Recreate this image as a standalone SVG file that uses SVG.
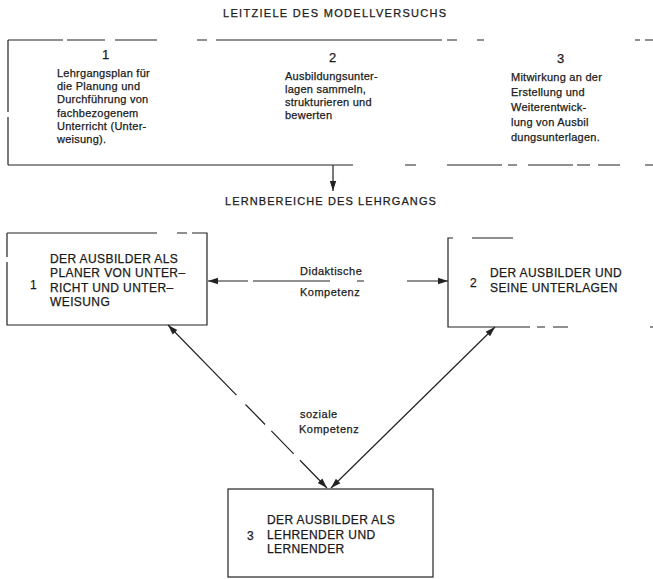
<svg xmlns="http://www.w3.org/2000/svg" width="653" height="579" viewBox="0 0 653 579">
<defs>
<style>
.ln{fill:none;stroke:#222;stroke-width:1.2}
.t{font-family:"Liberation Sans",Arial,sans-serif;fill:#1a1a1a;stroke:#1a1a1a;stroke-width:0.25}
.ttl{font-size:11px;letter-spacing:1.3px}
.ttl2{font-size:11px;letter-spacing:1.1px}
.num{font-size:13px}
.sm{font-size:11px;letter-spacing:0.25px}
.cap{font-size:12px;letter-spacing:0.4px}
.lbl{font-size:11px;letter-spacing:0.5px}
</style>
<marker id="ah" viewBox="0 0 10 8" refX="10" refY="4" markerWidth="10" markerHeight="8" markerUnits="userSpaceOnUse" orient="auto-start-reverse">
<path d="M0,0.8 L10,4 L0,7.2 z" fill="#222"/>
</marker>
</defs>
<rect width="653" height="579" fill="#fff"/>

<text class="t ttl" x="223" y="17">LEITZIELE DES MODELLVERSUCHS</text>
<text class="t ttl2" x="225" y="205">LERNBEREICHE DES LEHRGANGS</text>

<g id="leitziele">
<path class="ln" d="M8,40 H63 M67,40 H105 M115,40 H157 M197,40 H207 M216,40 H442 M447,40 H457 M477,40 H484 M635,40 H640 M645,40 H653 M8,40 V112 M8,117 V165 M8,165 H353 M405,165 H416 M447,165 H502 M508,165 H517 M528,165 H573 M577,165 H590 M598,165 H620 M645,165 H653"/>
</g>
<g id="ziel1">
<text class="t num" x="102" y="59">1</text>
<text class="t sm" x="57">
<tspan x="57" y="77">Lehrgangsplan für</tspan>
<tspan x="57" y="90.2">die Planung und</tspan>
<tspan x="57" y="103.4">Durchführung von</tspan>
<tspan x="57" y="116.6">fachbezogenem</tspan>
<tspan x="57" y="129.8">Unterricht (Unter-</tspan>
<tspan x="57" y="143">weisung).</tspan>
</text>
</g>
<g id="ziel2">
<text class="t num" x="329" y="62">2</text>
<text class="t sm" x="285">
<tspan x="285" y="80">Ausbildungsunter-</tspan>
<tspan x="285" y="93">lagen sammeln,</tspan>
<tspan x="285" y="106">strukturieren und</tspan>
<tspan x="285" y="119">bewerten</tspan>
</text>
</g>
<g id="ziel3">
<text class="t num" x="557" y="63">3</text>
<text class="t sm" x="511">
<tspan x="511" y="81">Mitwirkung an der</tspan>
<tspan x="511" y="96">Erstellung und</tspan>
<tspan x="511" y="111">Weiterentwick-</tspan>
<tspan x="511" y="126">lung von Ausbil</tspan>
<tspan x="511" y="141">dungsunterlagen.</tspan>
</text>
</g>

<g id="bereich1">
<path class="ln" d="M7,233 H157 M177,233 H187 M192,233 H207 V325 H7 V262 M7,257 V233"/>
<text class="t cap" x="30" y="289">1</text>
<text class="t cap" x="50">
<tspan x="50" y="262.5">DER AUSBILDER ALS</tspan>
<tspan x="50" y="277">PLANER VON UNTER–</tspan>
<tspan x="50" y="291.5">RICHT UND UNTER–</tspan>
<tspan x="50" y="306">WEISUNG</tspan>
</text>
</g>

<g id="bereich2">
<path class="ln" d="M453,238 H448 V327 H530 M537,327 H545 M553,327 H568 M650,327 H653 M472,238 H513"/>
<text class="t cap" x="470" y="287">2</text>
<text class="t cap" x="490">
<tspan x="490" y="277">DER AUSBILDER UND</tspan>
<tspan x="490" y="292">SEINE UNTERLAGEN</tspan>
</text>
</g>

<g id="bereich3">
<rect class="ln" x="228" y="489" width="205" height="88"/>
<text class="t cap" x="247" y="540">3</text>
<text class="t cap" x="267">
<tspan x="267" y="524">DER AUSBILDER ALS</tspan>
<tspan x="267" y="539">LEHRENDER UND</tspan>
<tspan x="267" y="553">LERNENDER</tspan>
</text>
</g>

<g id="connectors">
<line class="ln" x1="333" y1="165" x2="333" y2="191" marker-end="url(#ah)"/>
<line class="ln" x1="208" y1="281" x2="448" y2="281" stroke-dasharray="40 5 77 27 7 43 41" marker-start="url(#ah)" marker-end="url(#ah)"/>
<line class="ln" x1="168" y1="325" x2="327" y2="488" stroke-dasharray="98 13 28 9 32 9 60" marker-start="url(#ah)" marker-end="url(#ah)"/>
<line class="ln" x1="495" y1="327" x2="331" y2="488" marker-start="url(#ah)" marker-end="url(#ah)"/>
<text class="t lbl" x="300" y="275">Didaktische</text>
<text class="t lbl" x="300" y="296">Kompetenz</text>
<text class="t lbl" x="300" y="418">soziale</text>
<text class="t lbl" x="299" y="433">Kompetenz</text>
</g>
</svg>
